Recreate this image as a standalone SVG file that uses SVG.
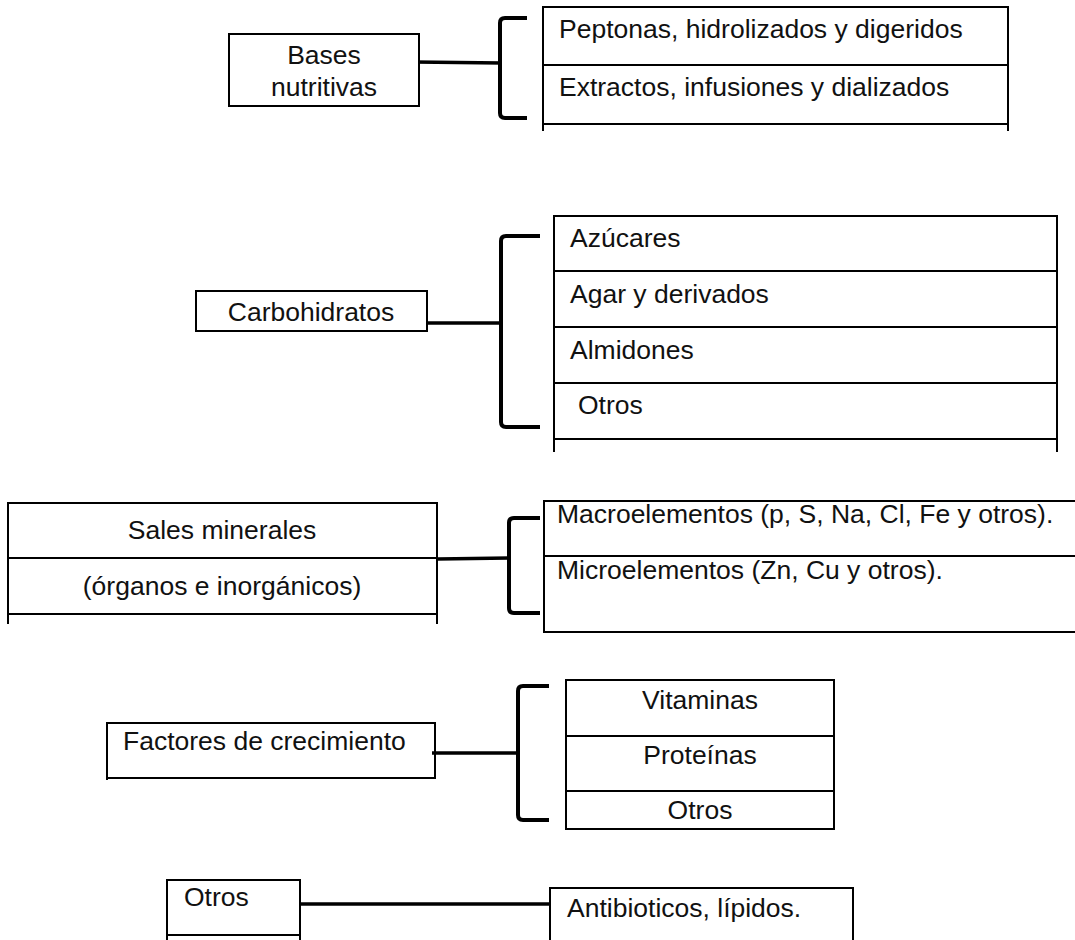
<svg xmlns="http://www.w3.org/2000/svg" width="1075" height="940" viewBox="0 0 1075 940">
<style>
.ln{stroke:#000;stroke-width:2;fill:none}
.bx{stroke:#000;stroke-width:2;fill:#fff}
.br{stroke:#000;stroke-width:4;fill:none;stroke-linejoin:round}
.cn{stroke:#000;stroke-width:3.5;fill:none}
text{font-family:"Liberation Sans",Arial,sans-serif;font-size:26.5px;fill:#111}
.c{text-anchor:middle}
</style>
<rect width="1075" height="940" fill="#fff"/>

<g id="connectors">
<line class="cn" x1="414" y1="62" x2="502" y2="63"/>
<path class="br" d="M527,18 H505 Q500,18 500,23 V113 Q500,118 505,118 H527"/>
<line class="cn" x1="423" y1="323" x2="502" y2="323"/>
<path class="br" d="M540,236 H506 Q501,236 501,241 V422 Q501,427 506,427 H540"/>
<line class="cn" x1="437" y1="559" x2="509" y2="558"/>
<path class="br" d="M540,518 H514 Q509,518 509,523 V608 Q509,613 514,613 H540"/>
<line class="cn" x1="432" y1="753" x2="518" y2="753"/>
<path class="br" d="M549,686 H523 Q518,686 518,691 V815 Q518,820 523,820 H549"/>
<line class="cn" x1="300" y1="904" x2="550" y2="904"/>
</g>

<g id="bases-nutritivas">
<rect class="bx" x="229" y="34" width="190" height="72"/>
<text class="c" x="324" y="64">Bases</text>
<text class="c" x="324" y="96">nutritivas</text>
</g>
<g id="bases-items">
<path class="ln" d="M543,131 V7 H1008 V131 M543,65 H1008 M543,124 H1008"/>
<text x="559" y="38">Peptonas, hidrolizados y digeridos</text>
<text x="559" y="96">Extractos, infusiones y dializados</text>
</g>

<g id="carbohidratos">
<rect class="bx" x="196" y="291" width="231" height="40"/>
<text class="c" x="311" y="321">Carbohidratos</text>
</g>
<g id="carbohidratos-items">
<path class="ln" d="M554,452 V216 H1057 V452 M554,271 H1057 M554,327 H1057 M554,383 H1057 M554,439 H1057"/>
<text x="570" y="247">Azúcares</text>
<text x="570" y="303">Agar y derivados</text>
<text x="570" y="359">Almidones</text>
<text x="578" y="414">Otros</text>
</g>

<g id="sales-minerales">
<path class="ln" d="M8,624 V503 H437 V624 M8,558 H437 M8,614 H437"/>
<text class="c" x="222" y="539">Sales minerales</text>
<text class="c" x="222" y="595">(órganos e inorgánicos)</text>
</g>
<g id="sales-items">
<path class="ln" d="M1080,501 H544 V632 H1080 M544,556 H1080"/>
<text x="557" y="523">Macroelementos (p, S, Na, Cl, Fe y otros).</text>
<text x="557" y="579">Microelementos (Zn, Cu y otros).</text>
</g>

<g id="factores">
<path class="ln" d="M107,780 V723 H435 V778 M106,778 H436"/>
<text x="123" y="750">Factores de crecimiento</text>
</g>
<g id="factores-items">
<rect class="bx" x="566" y="680" width="268" height="149"/>
<path class="ln" d="M566,736 H834 M566,791 H834"/>
<text class="c" x="700" y="709">Vitaminas</text>
<text class="c" x="700" y="764">Proteínas</text>
<text class="c" x="700" y="819">Otros</text>
</g>

<g id="otros">
<path class="ln" d="M167,940 V880 H300 V940 M167,935 H300"/>
<text x="184" y="906">Otros</text>
</g>
<g id="otros-items">
<path class="ln" d="M550,940 V888 H853 V940"/>
<text x="567" y="917">Antibioticos, lípidos.</text>
</g>
</svg>
